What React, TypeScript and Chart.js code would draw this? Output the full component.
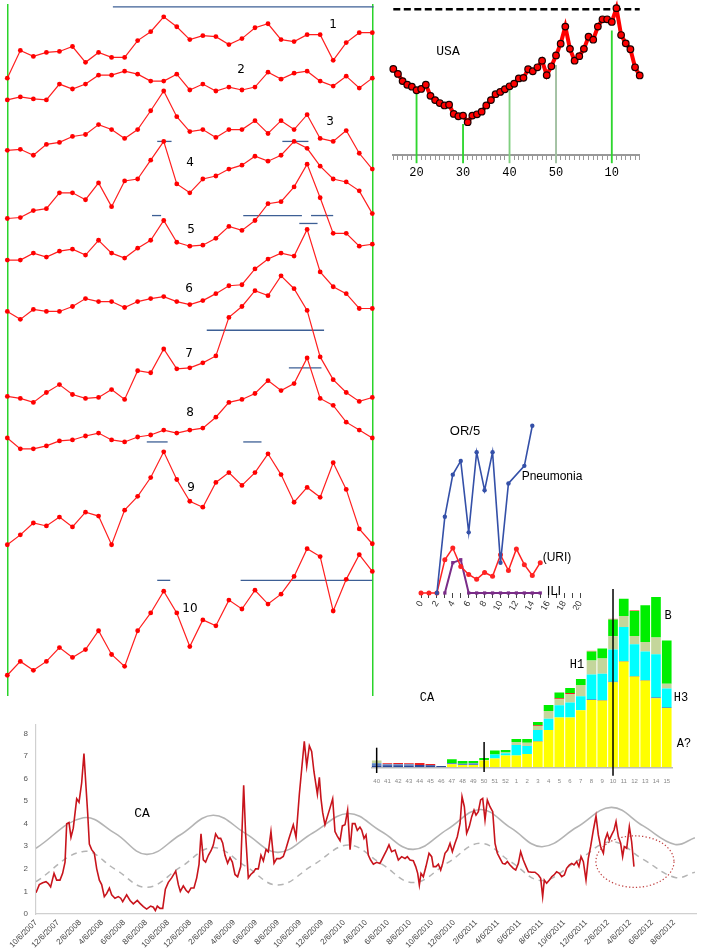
import { useEffect, useRef } from 'react'
import { Chart, registerables } from 'chart.js'

Chart.register(...registerables)

// ---------- left stack: ten weekly curves, levels as read (no axis in the source) ----------
const curve1 = [625, 653, 647, 651, 652, 657, 641, 651, 646, 646, 663, 672, 687, 677, 664, 668, 667, 659, 665, 676, 680, 664, 662, 669, 669, 643, 661, 671, 671]
const curve2 = [603, 606, 604, 603, 619, 614, 619, 628, 628, 632, 629, 622, 622, 629, 613, 619, 612, 616, 613, 616, 631, 624, 630, 632, 622, 617, 627, 615, 625]
const curve3 = [552, 553, 547, 558, 560, 566, 568, 578, 573, 564, 573, 592, 612, 586, 571, 573, 565, 573, 573, 582, 569, 582, 573, 588, 564, 561, 572, 549, 533]
const curve4 = [483, 484, 491, 493, 509, 509, 502, 519, 495, 521, 523, 542, 561, 518, 509, 523, 526, 533, 537, 546, 541, 547, 561, 554, 536, 523, 520, 511, 488]
const curve5 = [441, 441, 448, 444, 450, 452, 446, 461, 448, 443, 453, 461, 481, 459, 455, 456, 463, 475, 471, 481, 498, 500, 515, 538, 504, 468, 468, 455, 457]
const curve6 = [389, 381, 391, 389, 389, 394, 402, 399, 399, 393, 399, 402, 404, 399, 396, 400, 407, 415, 416, 432, 442, 448, 445, 472, 429, 414, 407, 392, 392]
const curve7 = [303, 301, 297, 307, 315, 305, 301, 302, 310, 300, 329, 327, 351, 331, 332, 337, 344, 383, 394, 410, 405, 425, 412, 390, 343, 320, 307, 298, 302]
const curve8 = [261, 250, 250, 253, 258, 259, 263, 266, 259, 257, 262, 264, 269, 266, 269, 271, 282, 297, 300, 306, 319, 309, 316, 342, 301, 294, 277, 269, 261]
const curve9 = [153, 163, 175, 172, 181, 171, 186, 182, 153, 188, 202, 221, 247, 219, 197, 191, 216, 226, 213, 226, 245, 224, 196, 211, 201, 236, 209, 169, 154]
const curve10 = [21, 35, 26, 35, 49, 39, 47, 66, 42, 30, 66, 84, 106, 84, 50, 77, 71, 97, 88, 107, 93, 103, 121, 149, 141, 86, 118, 143, 126]
const curves = [curve1, curve2, curve3, curve4, curve5, curve6, curve7, curve8, curve9, curve10]

// short blue bars: level and week span
const bandLevel = [697, 561, 561, 486, 486, 486, 478, 370, 332, 257, 257, 117, 117]
const bandFrom = [8.1, 11.5, 21.1, 11.1, 18.1, 23.3, 22.4, 15.3, 21.6, 10.7, 18.1, 11.5, 17.9]
const bandTo = [28.1, 12.6, 23.1, 11.8, 22.6, 25.0, 23.8, 24.3, 24.1, 12.3, 19.5, 12.5, 28.0]

// ---------- USA weekly curve ----------
const usaWeeks = ['15', '16', '17', '18', '19', '20', '21', '22', '23', '24', '25', '26', '27', '28', '29', '30', '31', '32', '33', '34', '35', '36', '37', '38', '39', '40', '41', '42', '43', '44', '45', '46', '47', '48', '49', '50', '51', '52', '1', '2', '3', '4', '5', '6', '7', '8', '9', '10', '11', '12', '13', '14', '15', '16']
const usaLevel = [87.3, 82.3, 75, 71.3, 69.3, 65.7, 67, 71.3, 60, 55.7, 52.7, 50.3, 51, 41.7, 39.3, 40, 33.3, 40, 41.3, 44, 50.3, 55.7, 61.7, 64, 66.7, 69.7, 72.3, 77.7, 78.3, 87, 85, 89, 95.7, 81, 90, 101, 113, 130.3, 107.7, 95.7, 100.3, 107.7, 120, 117, 130.3, 137.7, 137.7, 135, 149, 121.7, 113.3, 107.3, 89, 80.7]
const usaPeakLevel = 148
const usaTickWeeks = ['20', '30', '40', '50', '10']
const usaMarkTop = [62, 31, 67, 91, 126]
const usaMarkColor = ['#2fd62f', '#2fd62f', '#7fcf7f', '#9fbf9f', '#2fd62f']

// ---------- OR/5 weekly panel ----------
const pneumonia = [null, null, 0, 7.8, 12.1, 13.5, 6.2, 14.4, 10.5, 14.4, 3.1, 11.2, null, 13.0, 17.1, null]
const uri = [0, 0, 0, 3.4, 4.6, 2.7, 1.9, 1.4, 2.1, 1.7, 3.9, 2.3, 4.5, 2.9, 1.8, 3.1]
const ili = [null, null, null, 0, 3.1, 3.4, 0, 0, 0, 0, 0, 0, 0, 0, 0, 0]

// ---------- CA stacked lab results ----------
const caWeeks = ['40', '41', '42', '43', '44', '45', '46', '47', '48', '49', '50', '51', '52', '1', '2', '3', '4', '5', '6', '7', '8', '9', '10', '11', '12', '13', '14', '15']
const fluA = [0, 0, 0, 0, 0, 0, 0, 3, 2.3, 2.3, 6.7, 8.7, 11.7, 11.7, 13.3, 25.7, 37.3, 49.7, 49.7, 57, 67.3, 66.7, 85, 105.7, 90.7, 86.7, 69, 59.3]
const fluNavy = [1.7, 2, 2, 1.7, 2.3, 2, 1.3, 0, 0, 0, 0, 0, 0, 0, 0, 0.7, 0, 0, 0, 0, 0.5, 0.5, 0.5, 0.5, 0.7, 0.7, 0.7, 0.5]
const fluSteel = [2.3, 1, 1, 1.3, 0, 0, 0, 1.3, 1.3, 1.7, 0, 0, 0, 0, 0, 0, 0, 0, 0, 0, 0, 0, 0, 0, 0, 0, 0, 0]
const fluH3 = [0, 0, 0, 0, 0, 0, 0, 0, 0, 0, 0, 4, 2.3, 10.7, 8, 11, 11.3, 12.3, 15, 14, 25, 26.3, 32.3, 34, 31.7, 28.3, 43.3, 19]
const fluH1 = [2.7, 0, 0, 0, 0, 0, 0, 0, 0, 0, 0.7, 0, 0.7, 3, 3.3, 4, 7.7, 6, 8.7, 11.3, 14, 15.3, 13.3, 11, 8.3, 9.7, 16.7, 4.7]
const fluRed = [0, 1, 1.3, 1, 2, 1.3, 0, 0, 0, 0, 0, 0, 0, 0, 0, 0.7, 0, 1, 1, 0, 0, 0, 0, 0, 0, 0, 0, 0]
const fluB = [0, 0, 0, 0, 0, 0, 0, 3.7, 2.7, 2.3, 2, 4, 2.7, 3, 3.7, 3.3, 6, 5.7, 5, 6, 9, 10, 16.7, 17.3, 25, 36.7, 40.7, 43.3]
const fluPink = [0, 0, 0, 0, 0, 0, 0, 0, 0, 0, 0, 0, 0, 0, 0, 0, 0, 0, 0, 0, 0.7, 0, 0.8, 0, 0.8, 0, 0, 0]
const caMarkWeeks = ['40', '50', '10']
const caMarkTop = [19.6, 25.3, 178.3]
const caMarkBottom = [-5.7, -4.7, -8.4]

// ---------- CA weekly rate 2007-2012 (x in months from 10/6/2007) ----------
const caMonth = [0, 0.30, 0.61, 0.91, 1.12, 1.33, 1.64, 1.88, 2.18, 2.42, 2.64, 2.79, 3.00, 3.18, 3.39, 3.70, 3.91, 4.15, 4.36, 4.55, 4.70, 4.85, 5.06, 5.30, 5.52, 5.76, 5.97, 6.21, 6.42, 6.67, 6.88, 7.18, 7.48, 7.70, 7.88, 8.24, 8.55, 8.85, 9.21, 9.45, 9.76, 10.06, 10.42, 10.67, 10.85, 11.03, 11.27, 11.52, 11.76, 12.03, 12.33, 12.70, 12.94, 13.12, 13.39, 13.64, 13.85, 14.09, 14.36, 14.61, 14.82, 15.00, 15.21, 15.42, 15.67, 15.91, 16.12, 16.33, 16.58, 16.79, 16.97, 17.18, 17.42, 17.64, 17.85, 18.09, 18.33, 18.61, 18.88, 19.06, 19.30, 19.52, 19.76, 19.97, 20.21, 20.45, 20.67, 20.91, 21.12, 21.36, 21.64, 21.88, 22.18, 22.48, 22.73, 22.97, 23.39, 23.64, 23.94, 24.15, 24.39, 24.61, 24.85, 25.06, 25.27, 25.58, 25.76, 25.91, 26.06, 26.27, 26.48, 26.73, 26.97, 27.18, 27.39, 27.64, 27.85, 28.09, 28.33, 28.55, 28.76, 29.00, 29.21, 29.45,
  29.61, 29.82, 30.00, 30.21, 30.42, 30.67, 30.97, 31.27, 31.58, 31.88, 32.09, 32.33, 32.64, 32.94, 33.24, 33.55, 33.76, 34.00, 34.30, 34.52, 34.70, 34.85, 35.00, 35.21, 35.45, 35.73, 35.97, 36.12, 36.36, 36.58, 36.79, 36.97, 37.18, 37.42, 37.64, 37.85, 38.09, 38.30, 38.55, 38.73, 38.94, 39.15, 39.39, 39.61, 39.82, 40.00, 40.21, 40.42, 40.61, 40.82, 41.03, 41.27, 41.52, 41.73, 41.94, 42.18, 42.42, 42.64, 42.85, 43.09, 43.39, 43.61, 43.85, 44.06, 44.30, 44.55, 44.76, 45.06, 45.36, 45.67, 45.88, 46.06, 46.21, 46.42, 46.67, 46.88, 47.09, 47.33, 47.58, 47.79, 48.03, 48.24, 48.48, 48.70, 48.91, 49.15, 49.36, 49.55, 49.76, 50.00, 50.21, 50.42, 50.67, 50.91, 51.12, 51.33, 51.58, 51.73, 51.94, 52.12, 52.33, 52.55, 52.73, 52.94, 53.15, 53.33, 53.48, 53.70, 53.94, 54.15, 54.36]
const caRate = [0.94, 1.3, 1.38, 1.43, 1.35, 1.2, 1.8, 1.5, 1.5, 1.8, 2.3, 4.0, 4.05, 3.4, 3.8, 5.1, 4.95, 5.8, 7.1, 5.6, 4.45, 3.1, 2.85, 2.7, 2.0, 1.5, 1.3, 0.77, 0.9, 1.15, 0.85, 0.7, 0.77, 0.7, 0.55, 0.85, 0.6, 0.45, 0.6, 0.47, 0.33, 0.22, 0.35, 0.3, 0.15, 0.35, 0.25, 0.25, 1.1, 1.4, 1.6, 1.9, 1.3, 1.0, 1.25, 1.05, 0.95, 1.15, 1.15, 1.6, 2.2, 3.55, 2.4, 2.3, 2.6, 2.8, 3.05, 3.55, 3.35, 3.35, 3.15, 2.6, 2.25, 2.5, 2.3, 1.75, 1.65, 2.1, 5.7, 3.5, 1.6, 1.75, 1.85, 2.0, 2.0, 2.6, 2.35, 2.85, 2.75, 3.65, 2.25, 2.45, 2.45, 2.55, 2.9, 3.3, 3.95, 3.4, 5.3, 6.4, 7.65, 6.55, 7.45, 7.2, 6.3, 5.3, 6.05, 5.1, 4.5, 3.95, 4.3, 4.7, 5.1, 3.65, 3.45, 3.25, 3.9, 3.95, 4.6, 2.85, 4.0, 4.0, 3.7, 3.85,
  3.72, 3.35, 3.5, 2.61, 2.39, 2.21, 2.29, 2.24, 2.54, 2.83, 3.06, 2.76, 2.83, 2.39, 2.54, 2.46, 2.54, 2.39, 2.36, 2.1, 1.8, 1.28, 1.8, 1.65, 2.1, 2.69, 2.54, 2.1, 2.1, 2.21, 1.95, 2.24, 2.69, 2.83, 3.13, 2.76, 3.13, 3.42, 4.01, 5.2, 4.75, 3.57, 3.87, 4.31, 4.6, 4.38, 4.53, 5.05, 5.12, 4.16, 5.05, 4.75, 4.53, 3.13, 2.69, 2.46, 2.24, 2.21, 2.32, 2.17, 2.02, 1.95, 2.24, 2.76, 2.39, 2.1, 1.87, 1.85, 1.85, 1.73, 1.58, 0.77, 1.5, 1.36, 1.5, 1.65, 1.73, 1.87, 1.8, 1.65, 1.73, 2.02, 2.17, 2.24, 2.17, 2.32, 2.1, 2.54, 2.32, 1.5, 2.46, 2.98, 3.72, 4.34, 3.5, 2.98, 2.69, 3.28, 3.57, 3.28, 3.5, 3.72, 4.09, 3.42, 3.13, 2.54, 2.98, 2.91, 3.87, 3.2, 2.1]
const seasonMonth = [0, 4.3, 7.2, 10.06, 13.1, 16.1, 19.1, 22.0, 25.2, 28.4, 31.4, 34.3, 37.4, 40.4, 43.2, 46.0, 49.2, 52.3, 55.2, 58.1, 59.9]
const thresholdRate = [2.91, 4.26, 3.57, 2.64, 3.5, 4.37, 3.55, 2.73, 3.6, 4.45, 3.65, 2.86, 3.75, 4.63, 3.8, 2.98, 3.85, 4.72, 3.9, 3.08, 3.38]
const baselineRate = [1.43, 2.77, 1.98, 1.18, 2.06, 2.94, 2.1, 1.28, 2.17, 3.05, 2.22, 1.39, 2.26, 3.13, 2.3, 1.48, 2.35, 3.2, 2.42, 1.62, 1.85]
const caRateTicks = [0, 1, 2, 3, 4, 5, 6, 7, 8]
const caDateLabels = ['10/6/2007', '12/6/2007', '2/6/2008', '4/6/2008', '6/6/2008', '8/6/2008', '10/6/2008', '12/6/2008', '2/6/2009', '4/6/2009', '6/6/2009', '8/6/2009', '10/6/2009', '12/6/2009', '2/6/2010', '4/6/2010', '6/6/2010', '8/6/2010', '10/6/2010', '12/6/2010', '2/6/2011', '4/6/2011', '6/6/2011', '8/6/2011', '10/6/2011', '12/6/2011', '2/6/2012', '4/6/2012', '6/6/2012', '8/6/2012']
const watchMonth = 54.45
const watchRate = 2.32
const watchMonthRadius = 3.55
const watchRateRadius = 1.14

const noPlugins = { legend: { display: false }, tooltip: { enabled: false } }

function leftConfig(): any {
  return {
    type: 'line',
    data: {
      datasets: [
        ...curves.map((c) => ({
          data: c.map((v, i) => ({ x: i, y: v })),
          borderColor: '#ff1f1f',
          borderWidth: 1.2,
          pointRadius: 2.4,
          pointBackgroundColor: '#ff0000',
          pointBorderWidth: 0,
          clip: false,
        })),
        ...bandLevel.map((lv, k) => ({
          data: [{ x: bandFrom[k], y: lv }, { x: bandTo[k], y: lv }],
          borderColor: '#3d5f95',
          borderWidth: 1.3,
          pointRadius: 0,
          clip: false,
        })),
      ],
    },
    options: {
      animation: false,
      responsive: false,
      layout: { padding: { left: 7.3, right: 7.7, top: 0, bottom: 0 } },
      plugins: noPlugins,
      scales: {
        x: {
          type: 'linear', min: 0, max: 28,
          ticks: { display: false, stepSize: 28 },
          grid: { color: '#2ad42a', lineWidth: 1.5, drawTicks: false },
          border: { display: false },
          afterFit: (s: any) => { s.height = 0 },
        },
        y: { min: 0, max: 700, display: false },
      },
    },
  }
}

function usaConfig(): any {
  return {
    type: 'line',
    data: {
      labels: usaWeeks,
      datasets: [
        {
          type: 'line', data: usaLevel, order: 1, clip: false,
          borderColor: '#ff0000', borderWidth: 4,
          pointRadius: 3.3, pointBackgroundColor: '#ff0000', pointBorderColor: '#1a0000', pointBorderWidth: 1.2,
        },
        {
          type: 'line', data: usaWeeks.map(() => usaPeakLevel), order: 3, clip: false,
          borderColor: '#000', borderWidth: 2.5, borderDash: [7, 3.5], pointRadius: 0,
        },
        {
          type: 'bar', order: 2, clip: false, barThickness: 1.2,
          data: usaWeeks.map((w) => {
            const k = usaTickWeeks.indexOf(w)
            return k >= 0 ? [-8, usaMarkTop[k]] : null
          }),
          backgroundColor: usaWeeks.map((w) => {
            const k = usaTickWeeks.indexOf(w)
            return k >= 0 ? usaMarkColor[k] : 'transparent'
          }),
        },
      ],
    },
    options: {
      animation: false,
      responsive: false,
      layout: { padding: { left: 8.3, right: 70.3, top: 3, bottom: 0 } },
      plugins: noPlugins,
      scales: {
        x: {
          offset: false,
          grid: { offset: false, drawOnChartArea: false, tickLength: 5, color: '#999' },
          border: { color: '#999', width: 2 },
          ticks: {
            autoSkip: false, maxRotation: 0, minRotation: 0, padding: 6,
            color: '#000', font: { family: 'Liberation Mono', size: 12 },
            callback: (_v: any, i: number) => (usaTickWeeks.includes(usaWeeks[i]) ? usaWeeks[i] : ''),
          },
          afterFit: (s: any) => { s.height = 30 },
        },
        y: { display: false, min: 0, max: 152 },
      },
    },
  }
}

function orConfig(): any {
  const pts = (arr: (number | null)[]) => arr.map((v, i) => ({ x: i, y: v }))
  return {
    type: 'line',
    data: {
      datasets: [
        { data: pts(pneumonia), borderColor: '#3450a8', borderWidth: 1.6, pointRadius: 2.2, pointBackgroundColor: '#3450a8', pointBorderWidth: 0, spanGaps: true, clip: false },
        { data: pts(uri), borderColor: '#ff2222', borderWidth: 1.5, pointRadius: 2.5, pointBackgroundColor: '#ff2222', pointBorderWidth: 0, clip: false },
        { data: pts(ili), borderColor: '#7a2c88', borderWidth: 2, pointStyle: 'rect', pointRadius: 2.3, pointBackgroundColor: '#7a2c88', pointBorderWidth: 0, clip: false },
      ],
    },
    options: {
      animation: false,
      responsive: false,
      layout: { padding: { left: 11, right: 30, top: 0, bottom: 0 } },
      plugins: noPlugins,
      scales: {
        x: {
          type: 'linear', min: 0, max: 20,
          grid: { drawOnChartArea: false, tickLength: 5, color: '#444' },
          border: { display: false },
          ticks: {
            stepSize: 1, autoSkip: false, minRotation: 60, maxRotation: 60, padding: 1,
            color: '#333', font: { family: 'Liberation Sans', size: 9 },
            callback: (v: any) => (Number(v) % 2 === 0 ? String(v) : ''),
          },
          afterFit: (s: any) => { s.height = 17 },
        },
        y: { display: false, min: 0, max: 18.3 },
      },
    },
  }
}

const caMarkPlugin = {
  id: 'caMarks',
  afterDatasetsDraw(chart: any) {
    const { ctx, scales } = chart
    ctx.save()
    ctx.strokeStyle = '#000'
    ctx.lineWidth = 1.5
    caMarkWeeks.forEach((w, k) => {
      const x = scales.x.getPixelForValue(caWeeks.indexOf(w))
      ctx.beginPath()
      ctx.moveTo(x, scales.y.getPixelForValue(caMarkTop[k]))
      ctx.lineTo(x, scales.y.getPixelForValue(caMarkBottom[k]))
      ctx.stroke()
    })
    ctx.restore()
  },
}

function labConfig(): any {
  const part = (data: number[], color: string) => ({ data, backgroundColor: color, stack: 'lab', barPercentage: 0.9, categoryPercentage: 1 })
  return {
    type: 'bar',
    data: {
      labels: caWeeks,
      datasets: [
        part(fluA, '#ffff00'),
        part(fluNavy, '#2a4a9a'),
        part(fluSteel, '#5b86c8'),
        part(fluH3, '#00ffff'),
        part(fluH1, '#c4d69b'),
        part(fluRed, '#ee2020'),
        part(fluB, '#00ee00'),
        part(fluPink, '#ff8080'),
      ],
    },
    options: {
      animation: false,
      responsive: false,
      layout: { padding: { left: 11.3, right: 37.9, top: 0, bottom: 0 } },
      plugins: noPlugins,
      scales: {
        x: {
          stacked: true,
          grid: { display: false },
          border: { color: '#bbb', width: 1.5 },
          ticks: { autoSkip: false, maxRotation: 0, minRotation: 0, padding: 2, color: '#888', font: { family: 'Liberation Sans', size: 6 } },
          afterFit: (s: any) => { s.height = 17.7 },
        },
        y: { stacked: true, display: false, min: 0, max: 182.3 },
      },
    },
    plugins: [caMarkPlugin],
  }
}

const watchPlugin = {
  id: 'watchEllipse',
  afterDatasetsDraw(chart: any) {
    const { ctx, scales } = chart
    const cx = scales.x.getPixelForValue(watchMonth)
    const cy = scales.y.getPixelForValue(watchRate)
    const rx = scales.x.getPixelForValue(watchMonth + watchMonthRadius) - cx
    const ry = cy - scales.y.getPixelForValue(watchRate + watchRateRadius)
    ctx.save()
    ctx.strokeStyle = '#c04040'
    ctx.lineWidth = 1.2
    ctx.setLineDash([1.3, 2.2])
    ctx.beginPath()
    ctx.ellipse(cx, cy, rx, ry, 0, 0, Math.PI * 2)
    ctx.stroke()
    ctx.restore()
  },
}

function rateConfig(): any {
  return {
    type: 'line',
    data: {
      datasets: [
        { data: caMonth.map((m, i) => ({ x: m, y: caRate[i] })), borderColor: '#c8141c', borderWidth: 1.6, pointRadius: 0, order: 1 },
        { data: seasonMonth.map((m, i) => ({ x: m, y: thresholdRate[i] })), borderColor: '#b4b4b4', borderWidth: 1.6, pointRadius: 0, tension: 0.4, order: 2 },
        { data: seasonMonth.map((m, i) => ({ x: m, y: baselineRate[i] })), borderColor: '#b4b4b4', borderWidth: 1.5, borderDash: [6, 5], pointRadius: 0, tension: 0.4, order: 3 },
      ],
    },
    options: {
      animation: false,
      responsive: false,
      layout: { padding: { left: 0, right: 14, top: 14.3, bottom: 0 } },
      plugins: noPlugins,
      scales: {
        x: {
          type: 'linear', min: 0, max: 60,
          grid: { display: false, drawTicks: false },
          border: { color: '#d0d0d0', width: 1.2 },
          ticks: {
            stepSize: 2, autoSkip: false, minRotation: 45, maxRotation: 45, padding: 4,
            color: '#444', font: { family: 'Liberation Sans', size: 8 },
            callback: (v: any) => caDateLabels[Number(v) / 2] ?? '',
          },
          afterFit: (s: any) => { s.height = 36 },
        },
        y: {
          min: 0, max: 8.4,
          grid: { display: false, drawTicks: false },
          border: { color: '#d0d0d0', width: 1.2 },
          ticks: { padding: 8, color: '#555', font: { family: 'Liberation Sans', size: 8 } },
          afterBuildTicks: (s: any) => { s.ticks = caRateTicks.map((v) => ({ value: v })) },
          afterFit: (s: any) => { s.width = 36 },
        },
      },
    },
    plugins: [watchPlugin],
  }
}

function Panel({ left, top, width, height, make }: { left: number; top: number; width: number; height: number; make: () => any }) {
  const ref = useRef<HTMLCanvasElement>(null)
  useEffect(() => {
    if (!ref.current) return
    const chart = new Chart(ref.current, make())
    return () => chart.destroy()
  }, [])
  return <canvas ref={ref} width={width} height={height} style={{ position: 'absolute', left, top, width, height }} />
}

function Text({ x, y, children, size = 12, family = 'Liberation Mono' }: { x: number; y: number; children: string; size?: number; family?: string }) {
  return (
    <div style={{ position: 'absolute', left: x, top: y, transform: 'translate(-50%, -50%)', fontFamily: family, fontSize: size, lineHeight: 1, color: '#000', whiteSpace: 'nowrap' }}>
      {children}
    </div>
  )
}

export default function App() {
  return (
    <div style={{ position: 'absolute', left: 0, top: 0, width: 710, height: 950, overflow: 'hidden', background: '#fff' }}>
      <Panel left={0} top={710} width={710} height={240} make={rateConfig} />
      <Panel left={0} top={0} width={380} height={700} make={leftConfig} />
      <Panel left={385} top={0} width={325} height={185} make={usaConfig} />
      <Panel left={410} top={410} width={200} height={200} make={orConfig} />
      <Panel left={360} top={585} width={350} height={200} make={labConfig} />

      <Text x={333} y={24} family="DejaVu Sans">1</Text>
      <Text x={241} y={69} family="DejaVu Sans">2</Text>
      <Text x={330} y={121} family="DejaVu Sans">3</Text>
      <Text x={190} y={162} family="DejaVu Sans">4</Text>
      <Text x={191} y={229} family="DejaVu Sans">5</Text>
      <Text x={189} y={288} family="DejaVu Sans">6</Text>
      <Text x={189} y={353} family="DejaVu Sans">7</Text>
      <Text x={190} y={412} family="DejaVu Sans">8</Text>
      <Text x={191} y={487} family="DejaVu Sans">9</Text>
      <Text x={190} y={608} family="DejaVu Sans">10</Text>

      <Text x={448} y={51} size={13}>USA</Text>

      <Text x={465} y={430} size={13} family="Liberation Sans">OR/5</Text>
      <Text x={552} y={476} size={12} family="Liberation Sans">Pneumonia</Text>
      <Text x={557} y={557} size={12} family="Liberation Sans">(URI)</Text>
      <Text x={554} y={590} size={13} family="Liberation Sans">ILI</Text>

      <Text x={427} y={698}>CA</Text>
      <Text x={577} y={665}>H1</Text>
      <Text x={668} y={616}>B</Text>
      <Text x={681} y={698}>H3</Text>
      <Text x={684} y={744}>A?</Text>

      <Text x={142} y={813} size={13}>CA</Text>
    </div>
  )
}
